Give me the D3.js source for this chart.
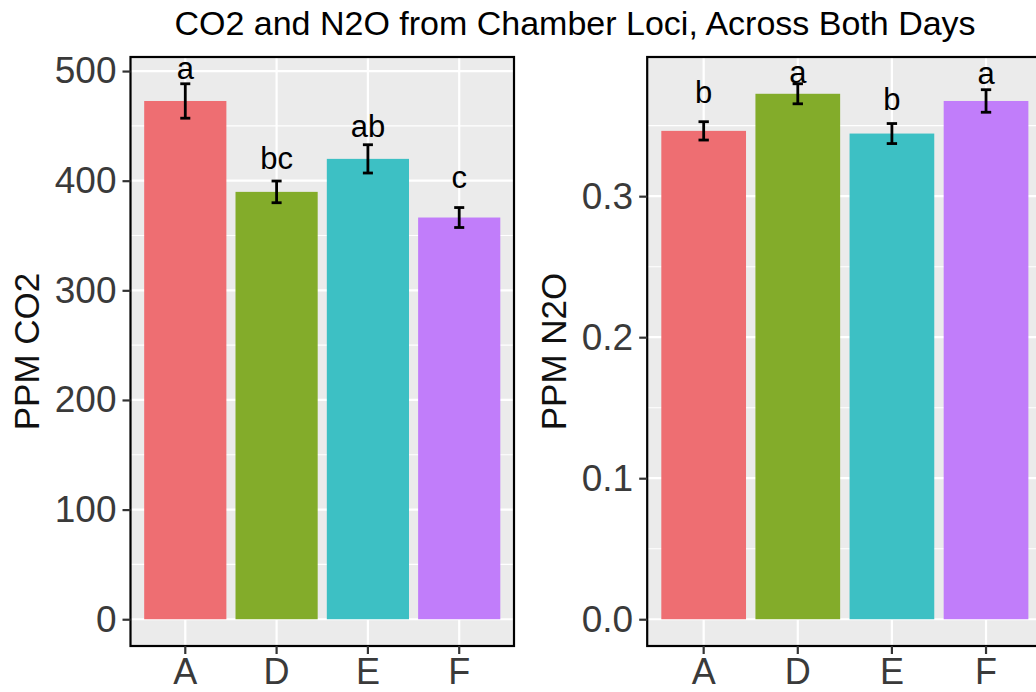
<!DOCTYPE html>
<html>
<head>
<meta charset="utf-8">
<script src="https://cdn.jsdelivr.net/npm/d3@7"></script>
<style>
  html, body { margin: 0; padding: 0; background: #ffffff; }
  svg { display: block; }
  text { font-family: "Liberation Sans", Arial, sans-serif; }
</style>
</head>
<body>
<script>
// Chamber loci shown on both panels
const categories = ["A", "D", "E", "F"];
const barColors = ["#EE6E72", "#83AC2A", "#3DC0C4", "#C17DFA"];

// CO2 panel: mean, standard error, significance letters and letter heights (ppm)
const co2Mean = [472.7, 389.8, 419.9, 366.4];
const co2Se = [15.7, 9.9, 12.9, 9.1];
const co2Letters = ["a", "bc", "ab", "c"];
const co2LetterY = [492.7, 410.5, 440.2, 393.2];
const co2Ticks = [0, 100, 200, 300, 400, 500];
const co2Minor = [50, 150, 250, 350, 450];

// N2O panel
const n2oMean = [0.3463, 0.3726, 0.3444, 0.3675];
const n2oSe = [0.0065, 0.0071, 0.0071, 0.0080];
const n2oLetters = ["b", "a", "b", "a"];
const n2oLetterY = [0.3662, 0.3804, 0.3609, 0.3797];
const n2oTicks = [0, 0.1, 0.2, 0.3];
const n2oMinor = [0.05, 0.15, 0.25, 0.35];

const W = 1036, H = 692;
const svg = d3.select("body").append("svg").attr("width", W).attr("height", H);

svg.append("text")
  .attr("x", 575).attr("y", 35)
  .attr("text-anchor", "middle")
  .attr("font-size", 34)
  .attr("fill", "#000")
  .text("CO2 and N2O from Chamber Loci, Across Both Days");

function panel(opts) {
  const { x0, x1, y0, y1, mean, se, letters, letterY, ticks, minor, fmt, title, titleX } = opts;
  const upper = mean.map((m, i) => m + se[i]);
  const top = d3.max(upper);
  const pad = top * 0.05;
  const y = d3.scaleLinear().domain([-pad, top + pad]).range([y1, y0]);
  const x = d3.scaleBand().domain(categories).range([x0, x1])
    .paddingInner(0.1).paddingOuter(0.15);
  const step = x.step();
  const g = svg.append("g");

  // panel background and grid
  g.append("rect").attr("x", x0).attr("y", y0).attr("width", x1 - x0).attr("height", y1 - y0)
    .attr("fill", "#EBEBEB");
  g.selectAll(".minor").data(minor).join("line")
    .attr("x1", x0).attr("x2", x1).attr("y1", d => y(d)).attr("y2", d => y(d))
    .attr("stroke", "#fff").attr("stroke-width", 1.1);
  g.selectAll(".major").data(ticks).join("line")
    .attr("x1", x0).attr("x2", x1).attr("y1", d => y(d)).attr("y2", d => y(d))
    .attr("stroke", "#fff").attr("stroke-width", 2.2);
  g.selectAll(".vgrid").data(categories).join("line")
    .attr("x1", d => x(d) + x.bandwidth() / 2).attr("x2", d => x(d) + x.bandwidth() / 2)
    .attr("y1", y0).attr("y2", y1)
    .attr("stroke", "#fff").attr("stroke-width", 2.2);

  // bars
  g.selectAll(".bar").data(categories).join("rect")
    .attr("x", d => x(d)).attr("width", x.bandwidth())
    .attr("y", (d, i) => y(mean[i])).attr("height", (d, i) => y(0) - y(mean[i]))
    .attr("fill", (d, i) => barColors[i]);

  // error bars
  const cap = step * 0.11;
  const eb = g.selectAll(".eb").data(categories).join("g")
    .attr("transform", d => `translate(${x(d) + x.bandwidth() / 2},0)`);
  eb.append("line").attr("y1", (d, i) => y(mean[i] - se[i])).attr("y2", (d, i) => y(mean[i] + se[i]))
    .attr("stroke", "#000").attr("stroke-width", 2.8);
  eb.append("line").attr("x1", -cap / 2).attr("x2", cap / 2)
    .attr("y1", (d, i) => y(mean[i] + se[i])).attr("y2", (d, i) => y(mean[i] + se[i]))
    .attr("stroke", "#000").attr("stroke-width", 2.8);
  eb.append("line").attr("x1", -cap / 2).attr("x2", cap / 2)
    .attr("y1", (d, i) => y(mean[i] - se[i])).attr("y2", (d, i) => y(mean[i] - se[i]))
    .attr("stroke", "#000").attr("stroke-width", 2.8);

  // significance letters
  g.selectAll(".letter").data(categories).join("text")
    .attr("x", d => x(d) + x.bandwidth() / 2)
    .attr("y", (d, i) => y(letterY[i]))
    .attr("text-anchor", "middle").attr("font-size", 31).attr("fill", "#000")
    .text((d, i) => letters[i]);

  // panel border
  g.append("rect").attr("x", x0).attr("y", y0).attr("width", x1 - x0).attr("height", y1 - y0)
    .attr("fill", "none").attr("stroke", "#000").attr("stroke-width", 2.2);

  // axes
  const yAxis = g.append("g").attr("transform", `translate(${x0},0)`)
    .call(d3.axisLeft(y).tickValues(ticks).tickFormat(fmt).tickSize(8).tickPadding(6));
  const xAxis = g.append("g").attr("transform", `translate(0,${y1})`)
    .call(d3.axisBottom(x).tickSize(8).tickPadding(4));
  [yAxis, xAxis].forEach(a => {
    a.select(".domain").remove();
    a.selectAll(".tick line").attr("stroke", "#333").attr("stroke-width", 2.2);
    a.selectAll(".tick text").attr("fill", "#3a3a3a").attr("font-size", 37)
      .attr("font-family", "'Liberation Sans', Arial, sans-serif");
  });
  xAxis.selectAll(".tick text").attr("font-size", 36).attr("dy", "0.71em");

  // y axis title
  g.append("text")
    .attr("transform", `translate(${titleX},${(y0 + y1) / 2}) rotate(-90)`)
    .attr("text-anchor", "middle").attr("font-size", 35)
    .attr("fill", "#111")
    .text(title);
}

panel({
  x0: 130.5, x1: 514, y0: 57, y1: 646,
  mean: co2Mean, se: co2Se, letters: co2Letters, letterY: co2LetterY,
  ticks: co2Ticks, minor: co2Minor, fmt: d3.format("d"),
  title: "PPM CO2", titleX: 38.5
});

panel({
  x0: 647.2, x1: 1042.5, y0: 57, y1: 646,
  mean: n2oMean, se: n2oSe, letters: n2oLetters, letterY: n2oLetterY,
  ticks: n2oTicks, minor: n2oMinor, fmt: d3.format(".1f"),
  title: "PPM N2O", titleX: 565.5
});
</script>
</body>
</html>
